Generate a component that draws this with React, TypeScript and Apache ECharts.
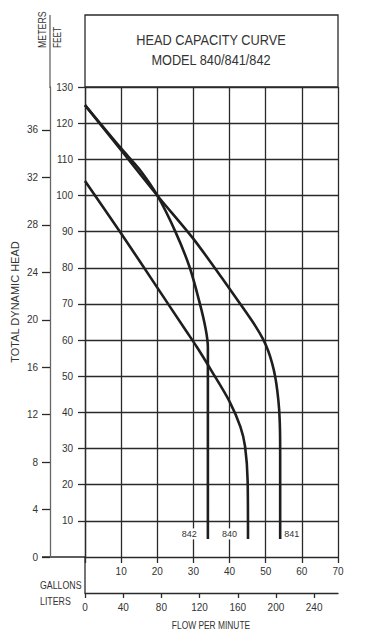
import React, { useEffect, useRef } from "react";
import * as echarts from "echarts";

// Flow in gallons per minute vs total dynamic head in feet
const curveNames = ["842", "840", "841"];
const curve842: [number, number][] = [
  [0, 125], [10, 113], [15, 107.3], [20, 100], [25, 90], [29, 80], [31.8, 70], [33.4, 63], [34, 58], [34, 5],
];
const curve840: [number, number][] = [
  [0, 104], [10, 89.5], [20, 74.5], [28, 62.5], [31, 58], [35, 51.5], [40, 43], [43, 36], [44.3, 30.5], [45, 21], [45.1, 5],
];
const curve841: [number, number][] = [
  [0, 125], [10, 112.5], [20, 100], [30, 88], [38, 77], [44, 68.5], [47.2, 63.8], [49.3, 60.2], [50.7, 57], [51.8, 53.5],
  [52.6, 50], [53.2, 46], [53.7, 41], [53.95, 35], [54, 28], [54, 5],
];

const feetTicks = [10, 20, 30, 40, 50, 60, 70, 80, 90, 100, 110, 120, 130];
const meterTicks = [0, 4, 8, 12, 16, 20, 24, 28, 32, 36];
const gallonTicks = [10, 20, 30, 40, 50, 60, 70];
const literTicks = [0, 40, 80, 120, 160, 200, 240];

const titleLines = ["HEAD CAPACITY CURVE", "MODEL 840/841/842"];

const FT_PER_M = 3.28084;
const L_PER_GAL = 3.78541;
const FEET_MAX = 130;
const GAL_MAX = 70;

const FONT = "'Liberation Sans', Arial, sans-serif";
const TXT = "#333";
const LINE = "#2a2a2a";

export default function App() {
  const ref = useRef<HTMLDivElement>(null);
  useEffect(() => {
    document.body.style.margin = "0";
    const chart = echarts.init(ref.current!, null, { renderer: "svg" });
    const curveSeries = (data: [number, number][], name: string, pos: string, dist: number) => ({
      type: "line",
      name,
      data,
      smooth: 0.3,
      showSymbol: false,
      symbol: "none",
      lineStyle: { color: "#1e1e1e", width: 2.6 },
      z: 5,
      markPoint: {
        symbol: "circle",
        symbolSize: 0,
        silent: true,
        data: [
          {
            coord: data[data.length - 1],
            label: {
              show: true,
              formatter: name,
              position: pos,
              distance: dist,
              offset: [0, -5],
              color: TXT,
              fontSize: 9,
              fontFamily: FONT,
              backgroundColor: "#fff",
              padding: [1, 1],
            },
          },
        ],
      },
    });
    const txt = (text: string, x: number, y: number, size: number, opts: any = {}) => ({
      type: "text",
      x,
      y,
      rotation: opts.rotation || 0,
      scaleX: opts.scaleX || 1,
      style: {
        text,
        fill: TXT,
        font: `${size}px ${FONT}`,
        textAlign: opts.align || "left",
        textVerticalAlign: "middle",
      },
    });
    chart.setOption({
      animation: false,
      backgroundColor: "#fff",
      grid: { left: 85, right: 52, top: 87, bottom: 82, containLabel: false },
      xAxis: [
        {
          type: "value",
          min: 0,
          max: GAL_MAX,
          interval: 10,
          position: "bottom",
          axisLine: { show: true, onZero: false, lineStyle: { color: LINE, width: 1.3 } },
          axisTick: { show: true, length: 6, lineStyle: { color: LINE, width: 1.3 } },
          axisLabel: { customValues: gallonTicks, margin: 9, color: TXT, fontSize: 10, fontFamily: FONT },
          splitLine: { show: true, lineStyle: { color: LINE, width: 1.3 } },
        },
        {
          type: "value",
          min: 0,
          max: GAL_MAX * L_PER_GAL,
          position: "bottom",
          offset: 36,
          axisLine: { show: true, onZero: false, lineStyle: { color: LINE, width: 1.3 } },
          axisTick: { show: true, length: 5, customValues: literTicks, lineStyle: { color: LINE, width: 1.3 } },
          axisLabel: { customValues: literTicks, margin: 9, color: TXT, fontSize: 10, fontFamily: FONT },
          splitLine: { show: false },
        },
      ],
      yAxis: [
        {
          type: "value",
          min: 0,
          max: FEET_MAX,
          interval: 10,
          position: "left",
          axisLine: { show: true, onZero: false, lineStyle: { color: LINE, width: 1.3 } },
          axisTick: { show: true, length: 7, customValues: feetTicks, lineStyle: { color: LINE, width: 1.3 } },
          axisLabel: { customValues: feetTicks, margin: 12, color: TXT, fontSize: 10, fontFamily: FONT },
          splitLine: { show: true, lineStyle: { color: LINE, width: 1.3 } },
        },
        {
          type: "value",
          min: 0,
          max: FEET_MAX / FT_PER_M,
          position: "left",
          offset: 35,
          axisLine: { show: true, onZero: false, lineStyle: { color: "#666", width: 1.3 } },
          axisTick: { show: true, length: 8, customValues: meterTicks, lineStyle: { color: LINE, width: 1.3 } },
          axisLabel: { customValues: meterTicks, margin: 12, color: TXT, fontSize: 10, fontFamily: FONT },
          splitLine: { show: false },
        },
      ],
      graphic: [
        { type: "rect", shape: { x: 85, y: 15, width: 253, height: 72 }, style: { fill: "none", stroke: LINE, lineWidth: 1.3 } },
        { type: "line", shape: { x1: 50, y1: 15, x2: 50, y2: 88 }, style: { stroke: "#666", lineWidth: 1.3 } },
        { type: "line", shape: { x1: 42, y1: 557, x2: 85, y2: 557 }, style: { stroke: LINE, lineWidth: 1.3 } },
        { type: "line", shape: { x1: 85, y1: 557, x2: 85, y2: 593 }, style: { stroke: LINE, lineWidth: 1.3 } },
        txt(titleLines[0], 211, 39.5, 15, { align: "center", scaleX: 0.85 }),
        txt(titleLines[1], 211, 60, 15, { align: "center", scaleX: 0.85 }),
        txt("METERS", 42, 48, 10, { rotation: Math.PI / 2, scaleX: 0.88 }),
        txt("FEET", 58, 48, 10, { rotation: Math.PI / 2, scaleX: 0.83 }),
        txt("TOTAL DYNAMIC HEAD", 15, 302, 11, { rotation: Math.PI / 2, align: "center" }),
        txt("GALLONS", 40, 585, 10, { scaleX: 0.88 }),
        txt("LITERS", 40, 601, 10, { scaleX: 0.88 }),
        txt("FLOW PER MINUTE", 211, 626, 10, { align: "center", scaleX: 0.84 }),
      ],
      series: [
        curveSeries(curve842, curveNames[0], "left", 10),
        curveSeries(curve840, curveNames[1], "left", 10),
        curveSeries(curve841, curveNames[2], "right", 3),
      ],
    });
    return () => chart.dispose();
  }, []);
  return <div ref={ref} style={{ width: 390, height: 639 }} />;
}
